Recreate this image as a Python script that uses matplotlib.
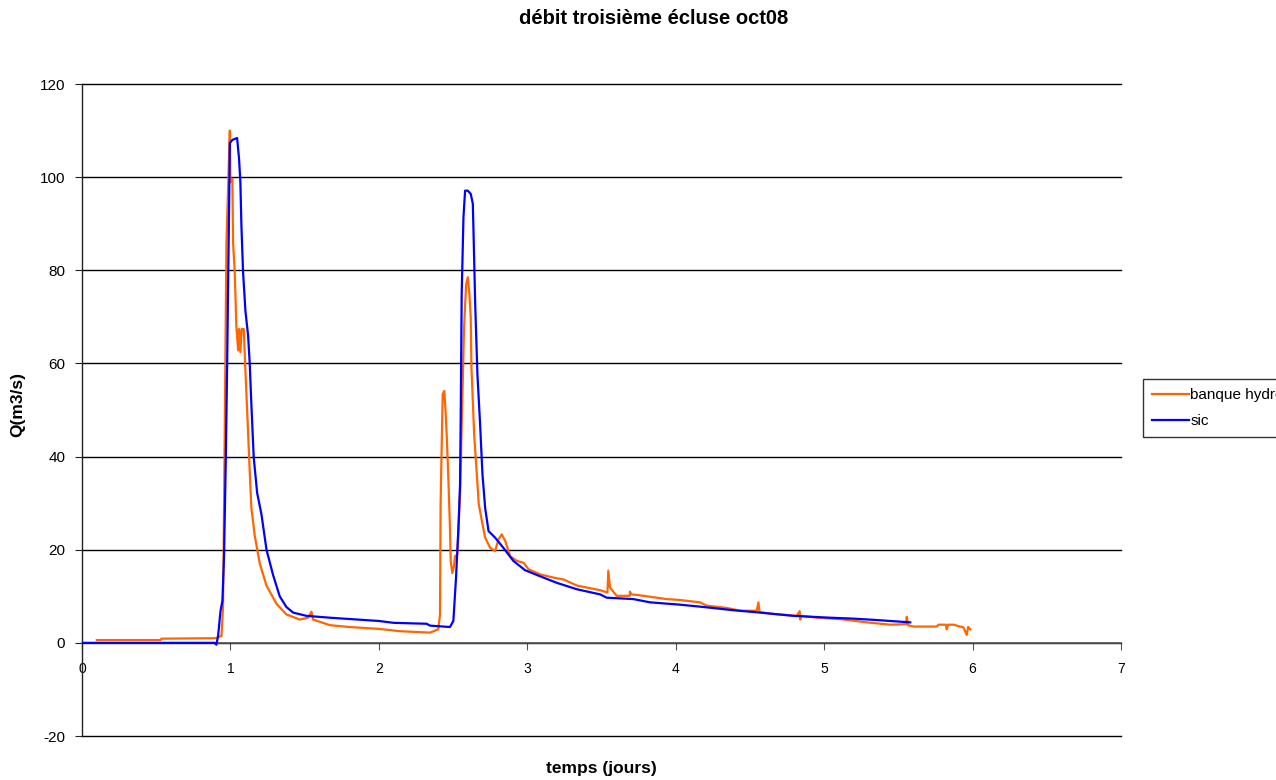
import matplotlib
matplotlib.use("Agg")
import matplotlib.pyplot as plt

plt.rcParams['font.family'] = ['Liberation Sans', 'DejaVu Sans']

title = "débit troisième écluse oct08"
xlabel = "temps (jours)"
ylabel = "Q(m3/s)"
series_names = ["banque hydro", "sic"]

# banque hydro (orange)
t_bh = [0.10, 0.53, 0.535, 0.90, 0.94, 0.950, 0.955, 0.964, 0.973, 0.996, 1.000, 1.013,
        1.018, 1.029, 1.040, 1.052, 1.058, 1.067, 1.076, 1.090, 1.099, 1.120, 1.130,
        1.141, 1.164, 1.198, 1.243, 1.310, 1.377, 1.467, 1.523, 1.546, 1.557, 1.670,
        1.800, 2.000, 2.142, 2.345, 2.400, 2.412, 2.416, 2.430, 2.441, 2.448, 2.457,
        2.468, 2.479, 2.484, 2.495, 2.506, 2.513, 2.529, 2.547, 2.561, 2.574, 2.588,
        2.599, 2.610, 2.619, 2.624, 2.642, 2.660, 2.673, 2.694, 2.716, 2.750, 2.783,
        2.806, 2.828, 2.851, 2.885, 2.930, 2.975, 3.009, 3.088, 3.178, 3.245, 3.335,
        3.492, 3.540, 3.546, 3.557, 3.602, 3.690, 3.692, 3.700, 3.737, 3.827, 3.939,
        4.029, 4.164, 4.209, 4.344, 4.434, 4.546, 4.557, 4.565, 4.658, 4.816, 4.835,
        4.839, 4.845, 4.951, 5.108, 5.288, 5.445, 5.550, 5.557, 5.565, 5.602, 5.759,
        5.770, 5.820, 5.826, 5.835, 5.872, 5.939, 5.961, 5.970, 5.984]
q_bh = [0.6, 0.6, 0.9, 1.0, 1.5, 7.6, 22.0, 53.6, 85.8, 110.0, 98.9, 99.6,
        85.8, 79.7, 68.0, 62.8, 67.4, 62.4, 67.4, 67.4, 60.0, 44.4, 36.8,
        29.0, 23.0, 17.0, 12.3, 8.4, 6.1, 5.0, 5.4, 6.7, 5.0, 3.8,
        3.4, 3.0, 2.5, 2.2, 2.9, 6.1, 29.8, 53.4, 54.1, 50.5, 44.8,
        35.5, 24.7, 17.6, 15.0, 16.5, 18.6, 19.0, 31.9, 50.5, 67.7, 77.0,
        78.5, 74.9, 69.9, 59.1, 44.8, 36.2, 29.8, 26.2, 22.6, 20.4, 19.7,
        22.2, 23.3, 21.9, 18.6, 17.6, 17.2, 15.8, 14.7, 14.0, 13.6, 12.3,
        11.3, 10.8, 15.5, 11.9, 10.1, 10.1, 11.0, 10.4, 10.3, 9.9, 9.4,
        9.2, 8.7, 8.0, 7.5, 6.9, 6.9, 8.7, 6.6, 6.2, 5.8, 6.8,
        5.0, 5.8, 5.4, 5.1, 4.4, 3.9, 4.0, 5.6, 3.8, 3.5, 3.5,
        3.9, 3.9, 2.9, 3.9, 3.9, 3.3, 1.7, 3.4, 2.9]

# sic (blue)
t_sic = [0.00, 0.894, 0.905, 0.917, 0.933, 0.946, 0.957, 0.969, 0.978, 0.984, 0.991,
         0.996, 1.013, 1.045, 1.058, 1.067, 1.074, 1.085, 1.101, 1.119, 1.130, 1.141,
         1.157, 1.180, 1.209, 1.243, 1.287, 1.332, 1.377, 1.422, 1.512, 1.670, 2.000,
         2.100, 2.322, 2.345, 2.479, 2.502, 2.520, 2.536, 2.547, 2.552, 2.558, 2.570,
         2.581, 2.599, 2.619, 2.633, 2.637, 2.649, 2.664, 2.682, 2.698, 2.716, 2.739,
         2.783, 2.839, 2.906, 2.985, 3.086, 3.198, 3.335, 3.492, 3.535, 3.714, 3.827,
         4.029, 4.187, 4.389, 4.568, 4.793, 5.040, 5.198, 5.355, 5.580]
q_sic = [0.0, 0.0, -0.4, 1.5, 6.8, 9.0, 18.6, 39.8, 60.0, 75.9, 93.5,
         107.3, 108.0, 108.4, 104.0, 98.9, 89.6, 79.7, 71.3, 66.0, 60.0, 51.3,
         39.8, 32.2, 27.6, 20.0, 14.6, 10.0, 7.7, 6.5, 5.8, 5.4, 4.7,
         4.3, 4.1, 3.7, 3.4, 4.7, 14.0, 24.7, 34.0, 50.5, 74.9, 91.4,
         97.1, 97.1, 96.4, 94.3, 89.2, 72.8, 57.7, 47.0, 36.2, 29.0, 24.0,
         22.6, 20.4, 17.6, 15.6, 14.3, 12.9, 11.5, 10.4, 9.7, 9.4, 8.7,
         8.2, 7.7, 7.0, 6.5, 5.8, 5.4, 5.2, 4.9, 4.4]

x_ticks = [0, 1, 2, 3, 4, 5, 6, 7]
y_ticks = [-20, 0, 20, 40, 60, 80, 100, 120]

W, H = 1276, 780
fig = plt.figure(figsize=(W / 100, H / 100), dpi=100)
ax = fig.add_axes([82 / W, 1 - 736 / H, (1121 - 82) / W, (736 - 84) / H])

ax.plot(t_bh, q_bh, color='#FF6600', lw=1.6, label=series_names[0], zorder=3)
ax.plot(t_sic, q_sic, color='#0000FF', lw=1.6, label=series_names[1], zorder=4)

ax.set_xlim(0, 7)
ax.set_ylim(-20, 120)
ax.set_xticks(x_ticks)
ax.set_yticks(y_ticks)
ax.set_xticklabels([str(v) for v in x_ticks], fontsize=11)
ax.set_yticklabels([str(v) for v in y_ticks], fontsize=11)

for s in ['top', 'right']:
    ax.spines[s].set_visible(False)
ax.spines['bottom'].set_position(('data', 0))
ax.spines['bottom'].set_color('#555555')
ax.spines['bottom'].set_linewidth(1.2)
ax.spines['left'].set_color('#222222')
ax.spines['left'].set_linewidth(1.0)
ax.tick_params(axis='x', direction='out', length=5, color='#555555', pad=9)
ax.tick_params(axis='y', direction='out', length=5, color='#222222', pad=7)

ax.yaxis.grid(True, color='black', lw=1.0, zorder=1)
ax.set_axisbelow(True)
for gl in ax.get_ygridlines():
    gl.set_clip_on(False)

fig.text(0.512, 1 - 18 / H, title, ha='center', va='center', fontsize=14.5, fontweight='bold')
fig.text(601 / W, 1 - 768 / H, xlabel, ha='center', va='center', fontsize=12.5, fontweight='bold')
fig.text(18 / W, 1 - 404 / H, ylabel, ha='center', va='center', fontsize=12.5,
         fontweight='bold', rotation=90)

leg = fig.legend(loc='center left', bbox_to_anchor=(1143 / W, 1 - 408 / H),
                 frameon=True, fancybox=False, fontsize=11, handlelength=2.4,
                 borderaxespad=0, handletextpad=0.1, borderpad=0.6, labelspacing=0.8)
leg.get_frame().set_edgecolor('black')
leg.get_frame().set_linewidth(1.0)

fig.savefig('out.png', dpi=100)
